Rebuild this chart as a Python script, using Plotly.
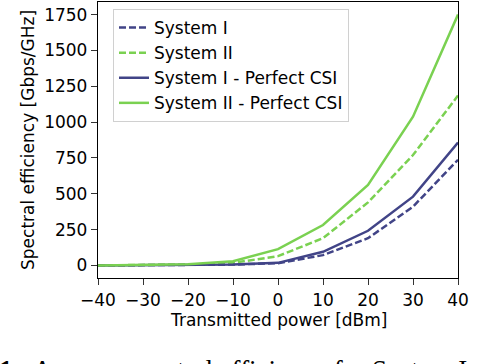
import plotly.graph_objects as go

# transmitted power [dBm]
power = [-40, -30, -20, -10, 0, 10, 20, 30, 40]

# spectral efficiency [Gbps/GHz]
sys1 = [0.3, 1, 3, 6, 16, 72, 190, 410, 737]
sys2 = [0.5, 2, 6, 18, 65, 190, 440, 770, 1185]
sys1_csi = [0.3, 1, 3, 6, 18, 95, 242, 480, 858]
sys2_csi = [0.5, 2, 8, 30, 114, 282, 562, 1038, 1750]

names = ['System I', 'System II', 'System I - Perfect CSI', 'System II - Perfect CSI']
blue = '#414487'
green = '#7AD151'

W, H = 500, 364
L, R, T, B = 98, 42, 2, 86
ph = H - T - B
pw = W - L - R
FS = 17

fig = go.Figure()
series = [(sys1, blue, '7px,3px'), (sys2, green, '7px,3px'),
          (sys1_csi, blue, 'solid'), (sys2_csi, green, 'solid')]
for (vals, col, dash), nm in zip(series, names):
    fig.add_trace(go.Scatter(x=power, y=vals, mode='lines', name=nm,
                             line=dict(color=col, width=2.5, dash=dash)))

axis_style = dict(showline=True, mirror=True, linecolor='black', linewidth=1.3,
                  ticks='outside', ticklen=6, tickwidth=1.3, tickcolor='#333',
                  showgrid=False, zeroline=False, automargin=False,
                  tickfont=dict(family='DejaVu Sans', size=FS, color='black'))

fig.update_layout(
    width=W, height=H,
    margin=dict(l=L, r=R, t=T, b=B),
    plot_bgcolor='white', paper_bgcolor='white',
    font=dict(family='DejaVu Sans', size=FS, color='black'),
    xaxis=dict(range=[-40, 40], tickvals=[-40, -30, -20, -10, 0, 10, 20, 30, 40],
               **axis_style),
    yaxis=dict(range=[-87.5, 1837.5], tickvals=[0, 250, 500, 750, 1000, 1250, 1500, 1750],
               **axis_style),
    legend=dict(x=(113 - L) / pw, y=(H - B - 9) / ph, xanchor='left', yanchor='top',
                bgcolor='rgba(255,255,255,0.8)', bordercolor='#d0d0d0', borderwidth=1,
                font=dict(size=FS)),
    showlegend=True,
)

def px_x(p):
    return (p - L) / pw

def px_y(p):
    return (H - B - p) / ph

# axis titles
fig.add_annotation(text='Transmitted power [dBm]', xref='paper', yref='paper',
                   x=px_x(278), y=px_y(320), xanchor='center', yanchor='middle',
                   showarrow=False, font=dict(size=FS))
fig.add_annotation(text='Spectral efficiency [Gbps/GHz]', xref='paper', yref='paper',
                   x=px_x(28), y=px_y(140), xanchor='center', yanchor='middle',
                   textangle=-90, showarrow=False, font=dict(size=FS))

# clipped figure caption at the bottom edge
fig.add_annotation(text='<b>1.</b>&nbsp;&nbsp;Average spectral efficiency for System I',
                   xref='paper', yref='paper', x=px_x(-3), y=px_y(370),
                   xanchor='left', yanchor='middle', showarrow=False,
                   font=dict(family='Liberation Serif', size=27, color='black'))

fig.write_html('out.html', config={'displayModeBar': False},
               post_script="document.body.style.margin='0';")
